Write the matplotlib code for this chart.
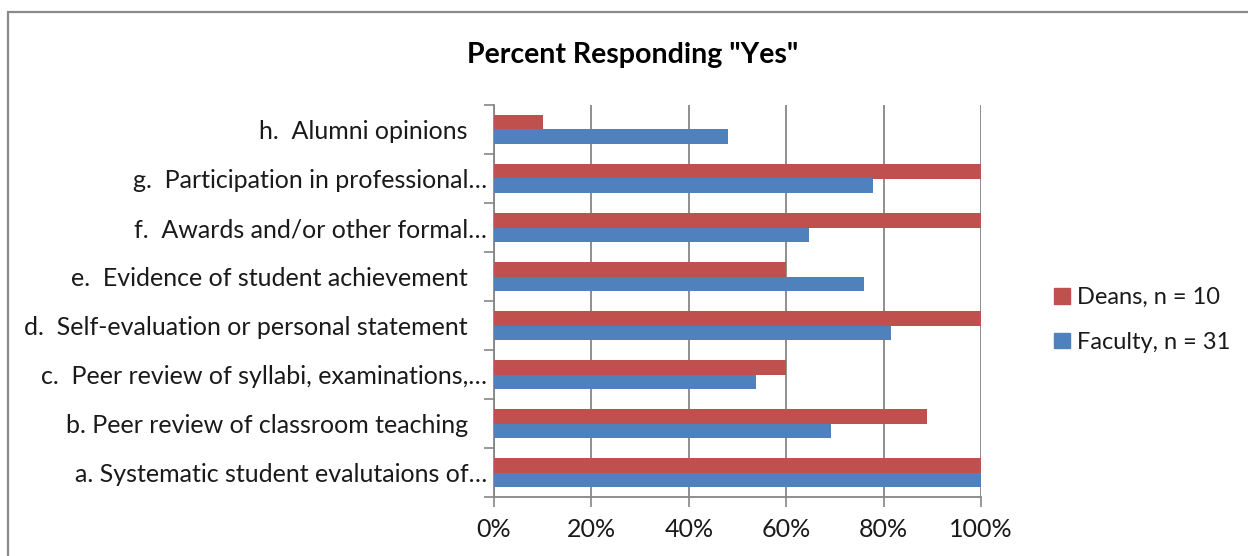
import numpy as np
import matplotlib
matplotlib.use("Agg")
import matplotlib.pyplot as plt
from matplotlib.patches import Patch, Rectangle

plt.rcParams['font.family'] = ['Lato', 'DejaVu Sans']

# data, bottom category first
categories = [
    "a. Systematic student evalutaions of\u2026",
    "b. Peer review of classroom teaching   ",
    "c.  Peer review of syllabi, examinations,\u2026",
    "d.  Self-evaluation or personal statement   ",
    "e.  Evidence of student achievement   ",
    "f.  Awards and/or other formal\u2026",
    "g.  Participation in professional\u2026",
    "h.  Alumni opinions   ",
]
faculty = [100, 69.3, 53.8, 81.5, 75.9, 64.6, 77.8, 48.0]
deans = [100, 88.9, 60, 100, 60, 100, 100, 10]
series_labels = ["Deans, n = 10", "Faculty, n = 31"]
xticks = [0, 20, 40, 60, 80, 100]

red = "#C0504D"
blue = "#4F81BD"
grey = "#868686"

W, H = 1248, 556
fig = plt.figure(figsize=(W / 100, H / 100), dpi=100)
ax = fig.add_axes([494 / W, 1 - 497 / H, (981 - 494) / W, (497 - 105) / H])

y = np.arange(len(categories))
h = 0.286
ax.barh(y + h / 2, deans, height=h, color=red, edgecolor="none", zorder=3)
ax.barh(y - h / 2, faculty, height=h, color=blue, edgecolor="none", zorder=3)

ax.set_xlim(0, 100)
ax.set_ylim(-0.5, len(categories) - 0.5)
ax.set_xticks(xticks)
ax.set_xticklabels([f"{t}%" for t in xticks])
ax.set_yticks(y)
ax.set_yticklabels(categories)
ax.set_yticks(np.arange(len(categories) + 1) - 0.5, minor=True)

ax.tick_params(axis="y", which="major", length=0, pad=5, labelsize=18, labelcolor="#1a1a1a")
ax.tick_params(axis="y", which="minor", length=7, width=1.2, color=grey)
ax.tick_params(axis="x", length=7, width=1.2, color=grey, pad=8, labelsize=18, labelcolor="#1a1a1a")

ax.grid(axis="x", color=grey, lw=1.3, zorder=0)
for s in ["top", "right"]:
    ax.spines[s].set_visible(False)
for s in ["left", "bottom"]:
    ax.spines[s].set_color(grey)
    ax.spines[s].set_linewidth(1.3)

fig.text(633 / W, 1 - 55 / H, 'Percent Responding "Yes"', ha="center", va="center",
         fontsize=20.5, fontweight="bold")

handles = [Patch(color=red), Patch(color=blue)]
fig.legend(handles, series_labels, loc="center left",
           bbox_to_anchor=(1033 / W, 1 - 320 / H), frameon=False,
           fontsize=17, handlelength=0.65, handleheight=0.65,
           handletextpad=0.3, labelspacing=1.0, labelcolor="#1a1a1a")

# outer chart frame (cut off at right and bottom)
fig.patches.append(Rectangle((8 / W, -0.1), 2, 1.1 - 12 / H, transform=fig.transFigure,
                             fill=False, edgecolor="#8a8a8a", lw=1.6))

fig.savefig("out.png", dpi=100)
